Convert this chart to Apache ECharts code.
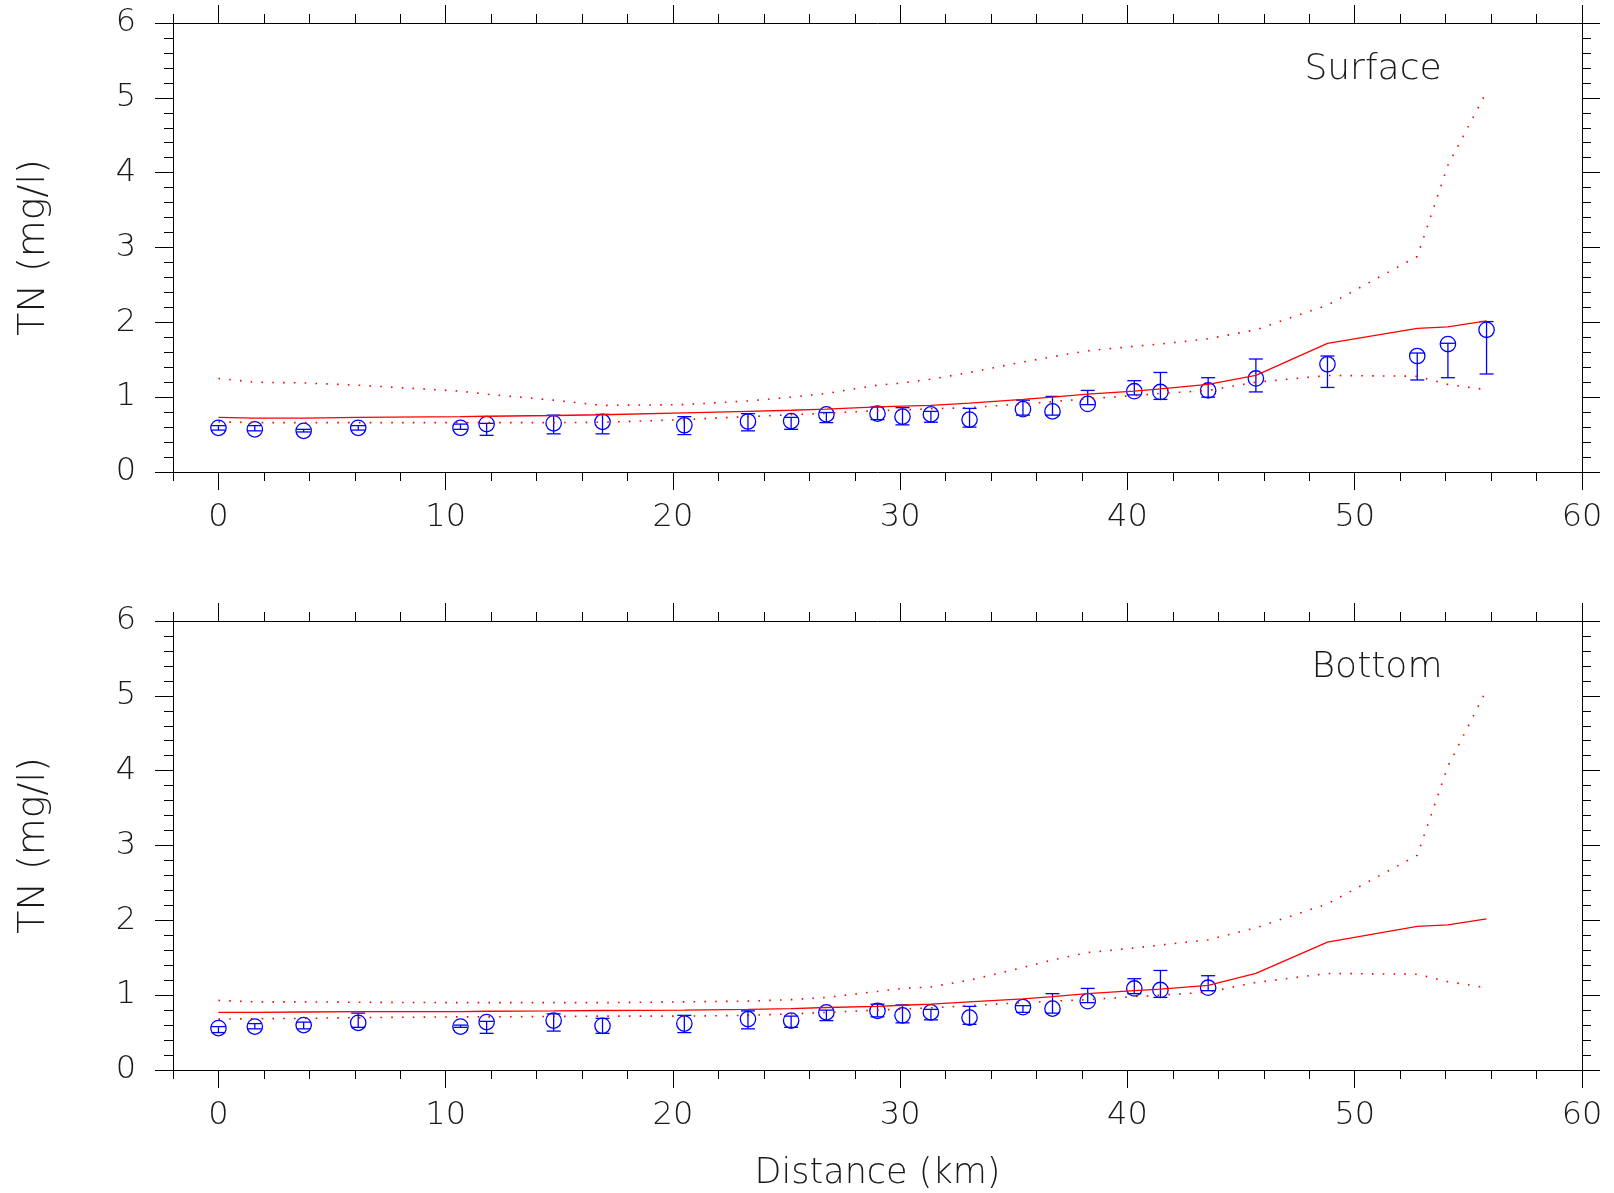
<!DOCTYPE html>
<html>
<head>
<meta charset="utf-8">
<script src="https://cdn.jsdelivr.net/npm/echarts@6/dist/echarts.min.js"></script>
<style>
html,body{margin:0;padding:0;background:#fff;}
#chart{width:1614px;height:1193px;}
</style>
</head>
<body>
<div id="chart"></div>
<script>
// ---------------- data ----------------
const stationX = [0, 1.6, 3.75, 6.15, 10.65, 11.8, 14.75, 16.9, 20.5, 23.3, 25.2, 26.75, 29.0, 30.1, 31.35, 33.05, 35.4, 36.7, 38.25, 40.3, 41.45, 43.55, 45.65, 48.8, 52.75, 54.1, 55.8];

// Surface: model mean and bounds at stations
const surfModel = [0.73, 0.72, 0.72, 0.73, 0.74, 0.745, 0.755, 0.765, 0.79, 0.81, 0.825, 0.84, 0.87, 0.88, 0.89, 0.92, 0.97, 1.00, 1.04, 1.08, 1.11, 1.17, 1.29, 1.72, 1.92, 1.94, 2.02];
const surfUpper = [1.25, 1.20, 1.19, 1.16, 1.08, 1.04, 0.96, 0.89, 0.90, 0.95, 1.00, 1.05, 1.16, 1.19, 1.24, 1.33, 1.47, 1.54, 1.62, 1.68, 1.71, 1.78, 1.90, 2.23, 2.88, 4.10, 5.08];
const surfLower = [0.67, 0.66, 0.66, 0.66, 0.66, 0.66, 0.66, 0.665, 0.70, 0.74, 0.765, 0.785, 0.82, 0.83, 0.845, 0.86, 0.91, 0.94, 0.98, 1.02, 1.05, 1.09, 1.20, 1.29, 1.28, 1.17, 1.10];

// Surface observations: mean, low, high
const surfObs  = [0.59, 0.57, 0.55, 0.59, 0.59, 0.64, 0.65, 0.67, 0.625, 0.675, 0.68, 0.77, 0.78, 0.74, 0.77, 0.70, 0.84, 0.81, 0.91, 1.08, 1.07, 1.09, 1.25, 1.44, 1.55, 1.71, 1.90];
const surfLow  = [0.56, 0.55, 0.535, 0.56, 0.57, 0.49, 0.51, 0.51, 0.50, 0.55, 0.57, 0.66, 0.70, 0.63, 0.665, 0.60, 0.76, 0.76, 0.90, 1.03, 0.97, 1.00, 1.07, 1.13, 1.23, 1.26, 1.31];
const surfHigh = [0.62, 0.62, 0.57, 0.62, 0.64, 0.65, 0.76, 0.77, 0.74, 0.78, 0.73, 0.795, 0.87, 0.86, 0.81, 0.85, 0.96, 1.01, 1.09, 1.22, 1.33, 1.26, 1.51, 1.55, 1.59, 1.72, 2.01];

// Bottom: model mean and bounds at stations
const botModel = [0.77, 0.77, 0.775, 0.78, 0.78, 0.785, 0.79, 0.795, 0.80, 0.81, 0.82, 0.835, 0.85, 0.865, 0.88, 0.91, 0.95, 0.98, 1.02, 1.06, 1.08, 1.13, 1.29, 1.71, 1.92, 1.94, 2.02];
const botUpper = [0.93, 0.91, 0.91, 0.905, 0.90, 0.90, 0.90, 0.90, 0.91, 0.92, 0.94, 0.97, 1.05, 1.09, 1.11, 1.20, 1.37, 1.47, 1.57, 1.63, 1.67, 1.74, 1.90, 2.22, 2.87, 4.06, 5.08];
const botLower = [0.68, 0.685, 0.69, 0.70, 0.71, 0.71, 0.715, 0.72, 0.72, 0.73, 0.75, 0.77, 0.80, 0.815, 0.83, 0.86, 0.90, 0.92, 0.94, 0.98, 1.00, 1.04, 1.17, 1.29, 1.28, 1.18, 1.10];

// Bottom observations (first 22 stations)
const botObs  = [0.56, 0.58, 0.60, 0.63, 0.58, 0.64, 0.66, 0.59, 0.62, 0.68, 0.66, 0.77, 0.79, 0.73, 0.77, 0.70, 0.84, 0.82, 0.92, 1.09, 1.07, 1.10];
const botLow  = [0.50, 0.55, 0.55, 0.57, 0.57, 0.49, 0.52, 0.49, 0.50, 0.55, 0.57, 0.66, 0.71, 0.63, 0.67, 0.61, 0.77, 0.76, 0.90, 1.02, 0.97, 1.06];
const botHigh = [0.58, 0.62, 0.64, 0.76, 0.60, 0.65, 0.75, 0.69, 0.73, 0.79, 0.72, 0.80, 0.88, 0.87, 0.81, 0.85, 0.86, 1.02, 1.09, 1.22, 1.33, 1.26];

const xMajorTicks = [0, 10, 20, 30, 40, 50, 60];
const xMinorTicks = [-2, 2, 4, 6, 8, 12, 14, 16, 18, 22, 24, 26, 28, 32, 34, 36, 38, 42, 44, 46, 48, 52, 54, 56, 58];
const panelLabels = ['Surface', 'Bottom'];
const yName = 'TN (mg/l)';
const xName = 'Distance (km)';

// ---------------- styling ----------------
const FONT = "'DejaVu Sans', Inter, sans-serif";
const FW = 200;
const TXT = '#1a1a1a';
const AX = '#000';
const RED = '#ff0000';
const BLUE = '#0000ff';

const grids = [
  {left: 173, top: 23, width: 1409, height: 449},
  {left: 173, top: 621, width: 1409, height: 449}
];

function xAxisDef(g, pos, major, labels, withName) {
  return {
    type: 'value', gridIndex: g, position: pos, min: -2, max: 60,
    axisLine: {show: major, onZero: false, lineStyle: {color: AX, width: 1}},
    splitLine: {show: false},
    axisTick: {show: true, inside: false, length: major ? 18 : 9,
      customValues: major ? xMajorTicks : xMinorTicks,
      lineStyle: {color: AX, width: 1}},
    axisLabel: {show: labels, customValues: xMajorTicks, margin: 30,
      fontFamily: FONT, fontWeight: FW, fontSize: 32, color: TXT},
    name: withName ? xName : '',
    nameLocation: 'middle', nameGap: 86,
    nameTextStyle: {fontFamily: FONT, fontWeight: FW, fontSize: 35, color: TXT}
  };
}
function yAxisDef(g, pos, labels) {
  return {
    type: 'value', gridIndex: g, position: pos, min: 0, max: 6, interval: 1,
    axisLine: {show: true, onZero: false, lineStyle: {color: AX, width: 1}},
    splitLine: {show: false},
    axisTick: {show: true, inside: false, length: 18, lineStyle: {color: AX, width: 1}},
    minorTick: {show: true, splitNumber: 5, length: 9, lineStyle: {color: AX, width: 1}},
    axisLabel: {show: labels, margin: 37, fontFamily: FONT, fontWeight: FW, fontSize: 32, color: TXT},
    name: labels ? yName : '',
    nameLocation: 'middle', nameGap: 120, nameRotate: 90,
    nameTextStyle: {fontFamily: FONT, fontWeight: FW, fontSize: 38, color: TXT}
  };
}

const xAxes = [], yAxes = [];
for (let g = 0; g < 2; g++) {
  xAxes.push(xAxisDef(g, 'bottom', true, true, g === 1)); // index 4g
  xAxes.push(xAxisDef(g, 'bottom', false, false, false));
  xAxes.push(xAxisDef(g, 'top', true, false, false));
  xAxes.push(xAxisDef(g, 'top', false, false, false));
  yAxes.push(yAxisDef(g, 'left', true));  // index 2g
  yAxes.push(yAxisDef(g, 'right', false));
}

function pairs(xs, ys) { return ys.map((v, i) => [xs[i], v]); }
function obsRows(xs, m, lo, hi) { return m.map((v, i) => [xs[i], v, lo[i], hi[i]]); }

function lineSeries(g, data, dotted) {
  return {
    type: 'line', xAxisIndex: 4 * g, yAxisIndex: 2 * g, data: data,
    showSymbol: false, symbol: 'none', silent: true, animation: false,
    lineStyle: dotted
      ? {color: RED, width: 1.6, type: [1.6, 9.2], cap: 'butt'}
      : {color: RED, width: 1.3}
  };
}

function errSeries(g, data) {
  return {
    type: 'custom', xAxisIndex: 4 * g, yAxisIndex: 2 * g, data: data,
    encode: {x: 0, y: 1}, animation: false, silent: true, clip: false,
    renderItem: function (params, api) {
      const x = api.value(0);
      const c = api.coord([x, api.value(1)]);
      const pl = api.coord([x, api.value(2)]);
      const ph = api.coord([x, api.value(3)]);
      const w = 7;
      const st = {stroke: BLUE, lineWidth: 1.3, fill: null};
      return {type: 'group', children: [
        {type: 'circle', shape: {cx: c[0], cy: c[1], r: 7.7}, style: st},
        {type: 'line', shape: {x1: c[0], y1: pl[1], x2: c[0], y2: ph[1]}, style: st},
        {type: 'line', shape: {x1: c[0] - w, y1: pl[1], x2: c[0] + w, y2: pl[1]}, style: st},
        {type: 'line', shape: {x1: c[0] - w, y1: ph[1], x2: c[0] + w, y2: ph[1]}, style: st}
      ]};
    }
  };
}

const series = [
  lineSeries(0, pairs(stationX, surfUpper), true),
  lineSeries(0, pairs(stationX, surfLower), true),
  lineSeries(0, pairs(stationX, surfModel), false),
  errSeries(0, obsRows(stationX, surfObs, surfLow, surfHigh)),
  lineSeries(1, pairs(stationX, botUpper), true),
  lineSeries(1, pairs(stationX, botLower), true),
  lineSeries(1, pairs(stationX, botModel), false),
  errSeries(1, obsRows(stationX, botObs, botLow, botHigh))
];

const chart = echarts.init(document.getElementById('chart'), null, {renderer: 'canvas'});
chart.setOption({
  backgroundColor: '#fff',
  animation: false,
  grid: grids,
  xAxis: xAxes,
  yAxis: yAxes,
  graphic: [
    {type: 'text', x: 1373, y: 70, style: {text: panelLabels[0], fontFamily: FONT, fontWeight: FW, fontSize: 36, fill: TXT, align: 'center', verticalAlign: 'middle'}},
    {type: 'text', x: 1377, y: 668, style: {text: panelLabels[1], fontFamily: FONT, fontWeight: FW, fontSize: 36, fill: TXT, align: 'center', verticalAlign: 'middle'}}
  ],
  series: series
});
</script>
</body>
</html>
